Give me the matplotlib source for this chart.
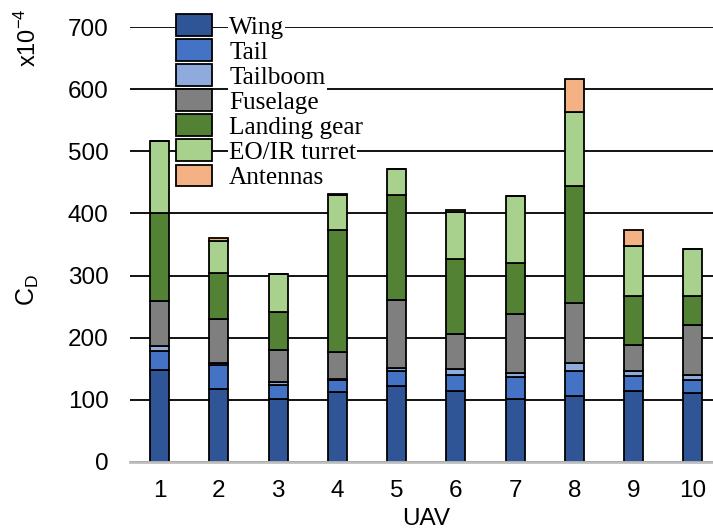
import numpy as np
import matplotlib.pyplot as plt

plt.rcParams['font.family'] = ['Liberation Sans', 'DejaVu Sans']

uav = np.arange(1, 11)
components = ['Wing', 'Tail', 'Tailboom', 'Fuselage', 'Landing gear',
              'EO/IR turret', 'Antennas']
wing = [148, 118, 101, 113, 122, 114, 102, 106, 115, 111]
tail = [30, 38, 23, 19, 25, 26, 34, 41, 23, 21]
tailboom = [8, 4, 5, 1, 5, 9, 7, 12, 8, 8]
fuselage = [73, 70, 52, 44, 109, 57, 95, 97, 43, 81]
landing_gear = [142, 74, 61, 196, 169, 120, 82, 188, 78, 46]
eo_ir = [116, 52, 60, 57, 41, 77, 108, 120, 81, 75]
antennas = [0, 5, 0, 2, 0, 3, 0, 53, 25, 1]
colors = ['#2F5597', '#4472C4', '#8FAADC', '#7F7F7F', '#548235',
          '#A9D18E', '#F4B183']

W, H = 713, 531
fig = plt.figure(figsize=(W / 100, H / 100), dpi=100)
ax = fig.add_axes([130 / W, 1 - 462 / H, (722.6 - 130) / W, (462 - 27) / H])

# stacked bars, one layer per component
bottom = np.zeros(len(uav))
for vals, name, c in zip([wing, tail, tailboom, fuselage, landing_gear, eo_ir, antennas],
                         components, colors):
    ax.bar(uav, vals, 0.32, bottom=bottom, color=c, edgecolor='black',
           linewidth=1.3, label=name, zorder=3)
    bottom += np.array(vals)

ax.set_xlim(0.5, 10.5)
ax.set_ylim(0, 700)
ax.set_yticks(range(0, 701, 100))
ax.set_xticks(uav)
ax.yaxis.grid(True, color='black', linewidth=1.3, zorder=0)
ax.set_axisbelow(True)
for s in ['top', 'right', 'left']:
    ax.spines[s].set_visible(False)
ax.spines['bottom'].set_color('#BFBFBF')
ax.spines['bottom'].set_linewidth(2)
ax.spines['bottom'].set_zorder(4)
ax.tick_params(axis='both', length=0, labelsize=17.5)
ax.tick_params(axis='y', pad=15.5)
ax.tick_params(axis='x', pad=13)

ax.set_xlabel('UAV', fontsize=17.5, labelpad=4)
fig.text(28 / W, 1 - 290 / H, 'C$_\\mathregular{D}$', rotation=90,
         fontsize=18, ha='center', va='center')
fig.text(28 / W, 1 - 38 / H, 'x10$^{\\mathregular{-4}}$', rotation=90,
         fontsize=17, ha='center', va='center')

leg = ax.legend(loc='upper left', bbox_to_anchor=(176 / W, 1 - 14 / H),
                bbox_transform=fig.transFigure, frameon=False, borderpad=0,
                borderaxespad=0, handlelength=1.42, handleheight=0.95,
                handletextpad=0.68, labelspacing=0.02,
                prop={'family': 'Liberation Serif', 'size': 18.2})
for t in leg.get_texts():
    t.set_bbox(dict(facecolor='white', edgecolor='none', pad=1))
for p in leg.get_patches():
    p.set_linewidth(1.3)

fig.savefig('out.png', dpi=100)
